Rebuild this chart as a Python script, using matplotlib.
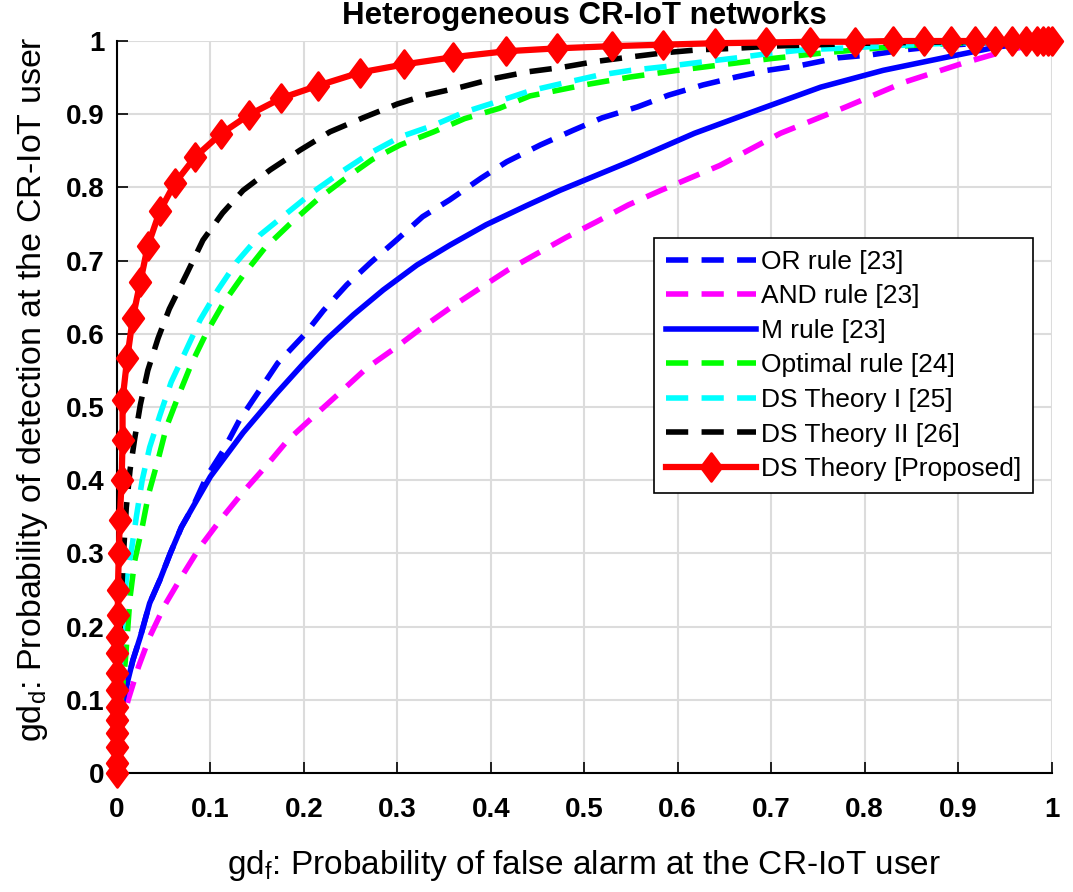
import matplotlib
matplotlib.use("Agg")
import matplotlib.pyplot as plt
from matplotlib.path import Path

plt.rcParams["font.family"] = ["Liberation Sans", "DejaVu Sans"]

# ROC curves (Pf, Pd)
or_pf = [0, 0.003, 0.01, 0.017, 0.025, 0.035, 0.046, 0.057, 0.069, 0.081, 0.096, 0.114, 0.131, 0.151,
         0.172, 0.2, 0.221, 0.246, 0.272, 0.299, 0.327, 0.356, 0.39, 0.417, 0.453, 0.488, 0.519, 0.557,
         0.59, 0.627, 0.663, 0.696, 0.733, 0.771, 0.806, 0.843, 0.88, 0.92, 0.96, 1.0]
or_pd = [0, 0.08, 0.118, 0.154, 0.186, 0.232, 0.264, 0.3, 0.336, 0.363, 0.405, 0.441, 0.482, 0.52,
         0.56, 0.598, 0.632, 0.667, 0.698, 0.728, 0.76, 0.783, 0.813, 0.835, 0.858, 0.878, 0.895, 0.91,
         0.926, 0.94, 0.951, 0.96, 0.967, 0.977, 0.981, 0.988, 0.993, 0.997, 0.999, 1.0]

and_pf = [0, 0.004, 0.012, 0.023, 0.035, 0.051, 0.07, 0.089, 0.112, 0.135, 0.16, 0.183, 0.206, 0.238,
          0.267, 0.297, 0.326, 0.356, 0.388, 0.418, 0.45, 0.481, 0.513, 0.547, 0.582, 0.645, 0.71,
          0.78, 0.843, 0.906, 0.955, 1.0]
and_pd = [0, 0.06, 0.1, 0.145, 0.186, 0.229, 0.27, 0.309, 0.348, 0.384, 0.42, 0.455, 0.482, 0.519,
          0.553, 0.58, 0.608, 0.635, 0.662, 0.687, 0.71, 0.732, 0.753, 0.776, 0.796, 0.83, 0.874,
          0.91, 0.944, 0.97, 0.988, 1.0]

m_pf = [0, 0.003, 0.01, 0.017, 0.025, 0.035, 0.046, 0.057, 0.069, 0.081, 0.1, 0.135, 0.171, 0.2,
        0.224, 0.253, 0.285, 0.321, 0.356, 0.395, 0.438, 0.474, 0.548, 0.618, 0.686, 0.753, 0.82,
        0.888, 0.942, 1.0]
m_pd = [0, 0.08, 0.118, 0.154, 0.186, 0.232, 0.264, 0.3, 0.336, 0.363, 0.405, 0.465, 0.519, 0.56,
        0.592, 0.626, 0.66, 0.694, 0.721, 0.749, 0.775, 0.796, 0.835, 0.874, 0.906, 0.937, 0.96,
        0.978, 0.992, 1.0]

opt_pf = [0, 0.003, 0.009, 0.014, 0.019, 0.027, 0.034, 0.044, 0.053, 0.066, 0.08, 0.096, 0.114, 0.135,
          0.158, 0.185, 0.214, 0.242, 0.273, 0.303, 0.339, 0.372, 0.409, 0.442, 0.5, 0.55, 0.6, 0.65,
          0.7, 0.75, 0.8, 0.85, 0.9, 0.95, 1.0]
opt_pd = [0, 0.08, 0.154, 0.24, 0.29, 0.336, 0.382, 0.428, 0.473, 0.516, 0.56, 0.602, 0.642, 0.68,
          0.717, 0.75, 0.783, 0.81, 0.838, 0.858, 0.876, 0.894, 0.908, 0.925, 0.94, 0.951, 0.96, 0.968,
          0.976, 0.983, 0.989, 0.994, 0.997, 0.999, 1.0]

ds1_pf = [0, 0.002, 0.006, 0.01, 0.016, 0.021, 0.027, 0.035, 0.046, 0.058, 0.073, 0.089, 0.108, 0.128,
          0.153, 0.182, 0.21, 0.241, 0.271, 0.303, 0.339, 0.372, 0.409, 0.442, 0.476, 0.514, 0.55,
          0.586, 0.624, 0.663, 0.698, 0.735, 0.771, 0.82, 0.87, 0.92, 0.96, 1.0]
ds1_pd = [0, 0.1, 0.2, 0.264, 0.309, 0.352, 0.4, 0.445, 0.489, 0.534, 0.575, 0.619, 0.66, 0.698,
          0.735, 0.765, 0.794, 0.822, 0.847, 0.869, 0.885, 0.903, 0.918, 0.932, 0.942, 0.953, 0.96,
          0.965, 0.971, 0.977, 0.983, 0.988, 0.99, 0.993, 0.996, 0.998, 0.999, 1.0]

ds2_pf = [0, 0.001, 0.004, 0.007, 0.01, 0.014, 0.019, 0.025, 0.033, 0.044, 0.056, 0.075, 0.092, 0.113,
          0.135, 0.164, 0.196, 0.228, 0.263, 0.3, 0.33, 0.368, 0.404, 0.44, 0.476, 0.512, 0.548, 0.586,
          0.622, 0.661, 0.7, 0.75, 0.8, 0.85, 0.9, 0.95, 1.0]
ds2_pd = [0, 0.1, 0.22, 0.3, 0.363, 0.414, 0.457, 0.503, 0.55, 0.594, 0.634, 0.683, 0.728, 0.765,
          0.796, 0.824, 0.851, 0.876, 0.895, 0.914, 0.926, 0.937, 0.949, 0.958, 0.964, 0.972, 0.978,
          0.984, 0.988, 0.99, 0.993, 0.995, 0.997, 0.998, 0.999, 1.0, 1.0]

prop_pf = [0, 0, 0, 0, 0, 0, 0, 0, 0, 0, 0.001, 0.001, 0.002, 0.003, 0.005, 0.006, 0.006, 0.011,
           0.017, 0.025, 0.033, 0.046, 0.062, 0.084, 0.111, 0.141, 0.176, 0.215, 0.26, 0.307, 0.36,
           0.416, 0.471, 0.53, 0.584, 0.64, 0.695, 0.742, 0.79, 0.83, 0.863, 0.892, 0.918, 0.94,
           0.958, 0.973, 0.984, 0.991, 0.996, 1.0]
prop_pd = [0, 0.014, 0.036, 0.055, 0.072, 0.09, 0.113, 0.137, 0.164, 0.186, 0.216, 0.25, 0.3, 0.346,
           0.4, 0.455, 0.51, 0.567, 0.622, 0.671, 0.72, 0.768, 0.806, 0.842, 0.873, 0.899, 0.922,
           0.939, 0.957, 0.968, 0.978, 0.986, 0.99, 0.993, 0.995, 0.997, 0.998, 0.999, 0.999, 1.0,
           1.0, 1.0, 1.0, 1.0, 1.0, 1.0, 1.0, 1.0, 1.0, 1.0]

ticks = [0, 0.1, 0.2, 0.3, 0.4, 0.5, 0.6, 0.7, 0.8, 0.9, 1]
tick_labels = ["0", "0.1", "0.2", "0.3", "0.4", "0.5", "0.6", "0.7", "0.8", "0.9", "1"]

# MATLAB-like diamond (a bit narrower than tall)
diamond = Path([(0, 1), (0.74, 0), (0, -1), (-0.74, 0), (0, 1)],
               [Path.MOVETO, Path.LINETO, Path.LINETO, Path.LINETO, Path.CLOSEPOLY])

fig = plt.figure(figsize=(10.73, 8.92), dpi=100)
ax = fig.add_axes([0.109, 0.1334, 0.871, 0.8206])

lw = 4.0
dash = (4, 2.4)
ax.plot(or_pf, or_pd, color="#0000ff", lw=lw, dashes=dash, label="OR rule [23]")
ax.plot(and_pf, and_pd, color="#ff00ff", lw=lw, dashes=dash, label="AND rule [23]")
ax.plot(m_pf, m_pd, color="#0000ff", lw=lw, label="M rule [23]")
ax.plot(opt_pf, opt_pd, color="#00ff00", lw=lw, dashes=dash, label="Optimal rule [24]")
ax.plot(ds1_pf, ds1_pd, color="#00ffff", lw=lw, dashes=dash, label="DS Theory I [25]")
ax.plot(ds2_pf, ds2_pd, color="black", lw=lw, dashes=dash, label="DS Theory II [26]")
ax.plot(prop_pf, prop_pd, color="#ff0000", lw=4.5, marker=diamond, markersize=20,
        markeredgewidth=2, label="DS Theory [Proposed]", clip_on=False, zorder=5)

ax.set_xlim(0, 1)
ax.set_ylim(0, 1)
ax.set_xticks(ticks)
ax.set_yticks(ticks)
ax.set_xticklabels(tick_labels, fontsize=20, fontweight="bold")
ax.set_yticklabels(tick_labels, fontsize=20, fontweight="bold")
ax.tick_params(axis="both", direction="in", length=8, width=1.2)
ax.tick_params(axis="x", pad=17)
ax.tick_params(axis="y", pad=9)
ax.grid(True, color="#dcdcdc", linewidth=1.5)
ax.set_axisbelow(True)
for s in ["top", "right"]:
    ax.spines[s].set_visible(False)
for s in ["left", "bottom"]:
    ax.spines[s].set_linewidth(1.5)

ax.set_title("Heterogeneous CR-IoT networks", fontsize=22.5, fontweight="bold", pad=12)
ax.set_xlabel(r"gd$_\mathregular{f}$: Probability of false alarm at the CR-IoT user", fontsize=24, labelpad=18)
ax.set_ylabel(r"gd$_\mathregular{d}$: Probability of detection at the CR-IoT user", fontsize=24.5)
ax.yaxis.set_label_coords(-0.072, 0.525)

leg = ax.legend(loc="upper left", bbox_to_anchor=(0.575, 0.731), fontsize=19, handlelength=3.4,
                handletextpad=0.2, borderpad=0.45, labelspacing=0.4, fancybox=False,
                framealpha=1, edgecolor="black", borderaxespad=0)
leg.get_frame().set_linewidth(1.2)

fig.savefig("out.png", dpi=100)
